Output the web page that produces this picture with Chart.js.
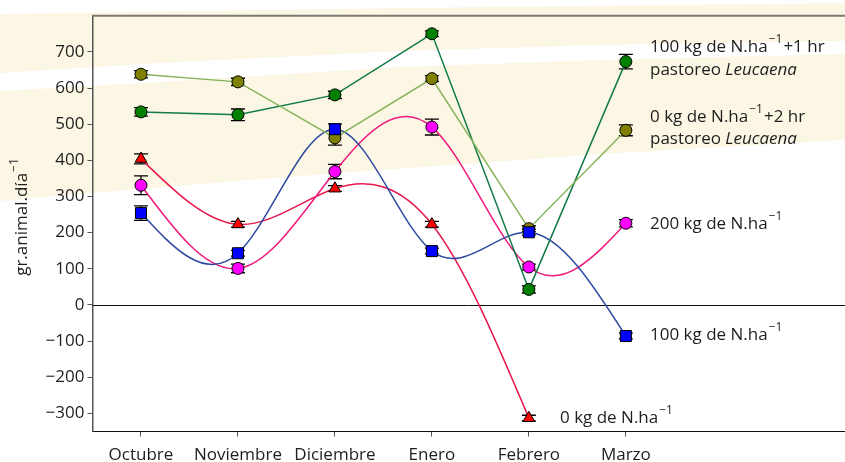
<!DOCTYPE html>
<html><head><meta charset="utf-8">
<script src="https://cdn.jsdelivr.net/npm/chart.js@4/dist/chart.umd.min.js"></script>
<style>html,body{margin:0;padding:0;background:#fff}</style>
</head><body>
<canvas id="c" width="845" height="462"></canvas>
<script>
// ---- data ----
const months = ['Octubre','Noviembre','Diciembre','Enero','Febrero','Marzo'];
const yTicks = [-300,-200,-100,0,100,200,300,400,500,600,700];
const n100leu    = [534, 526, 581, 750, 43, 673];
const n100leuErr = [12, 16, 10, 8, 10, 20];
const n0leu      = [638, 617, 462, 626, 211, 483];
const n0leuErr   = [10, 10, 20, 8, 8, 15];
const n200       = [331, 101, 369, 492, 105, 226];
const n200Err    = [26, 12, 20, 22, 8, 10];
const n100       = [254, 143, 486, 149, 201, -86];
const n100Err    = [20, 8, 15, 8, 8, 8];
const n0         = [404, 223, 322, 223, -313, null];
const n0Err      = [14, 8, 8, 8, 8, null];

const FONT = '"Open Sans", "DejaVu Sans", sans-serif';
const TXT = '#1e1e1e';

function pts(arr){ return arr.map((v,i)=>({x:i, y:v})); }

const datasets = [
  {label:'100 kg de N.ha-1', data:pts(n100), err:n100Err, borderColor:'#2d4aa0', backgroundColor:'#0000ff',
   pointStyle:'rect', pointRadius:7.8, showLine:false, spline:true},
  {label:'0 kg de N.ha-1+2 hr pastoreo Leucaena', data:pts(n0leu), err:n0leuErr, borderColor:'#86b35a', backgroundColor:'#808000',
   pointStyle:'circle', pointRadius:6, tension:0},
  {label:'100 kg de N.ha-1+1 hr pastoreo Leucaena', data:pts(n100leu), err:n100leuErr, borderColor:'#117a48', backgroundColor:'#008000',
   pointStyle:'circle', pointRadius:6, tension:0},
  {label:'200 kg de N.ha-1', data:pts(n200), err:n200Err, borderColor:'#f0187c', backgroundColor:'#ff00ff',
   pointStyle:'circle', pointRadius:6, showLine:false, spline:true},
  {label:'0 kg de N.ha-1', data:pts(n0), err:n0Err, borderColor:'#e8184c', backgroundColor:'#ff0000',
   pointStyle:'triangle', pointRadius:6.8, showLine:false, spline:true},
].map(d=>Object.assign({borderWidth:1.5, pointBorderColor:'#000', pointBorderWidth:1, pointBackgroundColor:d.backgroundColor, fill:false, spanGaps:false}, d));

// ---- helpers ----
function rich(ctx, x, y, parts, size){
  let cx = x;
  for (const p of parts){
    if (p.sup){
      ctx.font = `${Math.round(size*0.68)}px ${FONT}`;
      ctx.fillText(p.t, cx+1, y - size*0.45);
      cx += ctx.measureText(p.t).width + 2;
    } else {
      ctx.font = `${p.it?'italic ':''}${size}px ${FONT}`;
      ctx.fillText(p.t, cx, y);
      cx += ctx.measureText(p.t).width;
    }
  }
}

// natural cubic spline second derivatives (uniform x step 1)
function naturalM(y){
  const n = y.length, M = new Array(n).fill(0);
  if (n < 3) return M;
  const m = n - 2, a = [], b = [], c = [], d = [];
  for (let i = 1; i <= m; i++){ a.push(1); b.push(4); c.push(1); d.push(6*(y[i+1]-2*y[i]+y[i-1])); }
  for (let i = 1; i < m; i++){ const w = a[i]/b[i-1]; b[i] -= w*c[i-1]; d[i] -= w*d[i-1]; }
  const s = new Array(m);
  s[m-1] = d[m-1]/b[m-1];
  for (let i = m-2; i >= 0; i--) s[i] = (d[i]-c[i]*s[i+1])/b[i];
  for (let i = 0; i < m; i++) M[i+1] = s[i];
  return M;
}

function drawSpline(ctx, ds, xs, ys){
  const vals = ds.data.filter(p=>p.y!=null);
  const y = vals.map(p=>p.y), x0 = vals[0].x;
  const M = naturalM(y);
  ctx.beginPath();
  ctx.moveTo(xs.getPixelForValue(x0), ys.getPixelForValue(y[0]));
  for (let i = 0; i < y.length-1; i++){
    const dy = y[i+1]-y[i];
    const mL = dy - (2*M[i]+M[i+1])/6;
    const mR = dy + (M[i]+2*M[i+1])/6;
    const xa = x0+i, xb = x0+i+1;
    ctx.bezierCurveTo(
      xs.getPixelForValue(xa+1/3), ys.getPixelForValue(y[i]+mL/3),
      xs.getPixelForValue(xb-1/3), ys.getPixelForValue(y[i+1]-mR/3),
      xs.getPixelForValue(xb), ys.getPixelForValue(y[i+1]));
  }
  ctx.strokeStyle = ds.borderColor; ctx.lineWidth = ds.borderWidth;
  ctx.stroke();
}

const bgPlugin = {
  id:'bg',
  beforeDraw(chart){
    const ctx = chart.ctx;
    ctx.save();
    ctx.fillStyle = '#fcf6e5';
    const band = (top, bot) => {
      ctx.beginPath();
      ctx.moveTo(top[0][0], top[0][1]);
      for (const p of top.slice(1)) ctx.lineTo(p[0], p[1]);
      for (const p of bot.slice().reverse()) ctx.lineTo(p[0], p[1]);
      ctx.closePath(); ctx.fill();
    };
    band([[0,14],[400,8],[845,3]], [[0,73],[160,63],[400,51],[600,45],[845,41]]);
    band([[0,91],[160,82],[400,67],[600,60],[845,54]], [[0,201],[150,188],[300,176],[600,154],[845,140]]);
    ctx.restore();
  },
  beforeDatasetsDraw(chart){
    const ctx = chart.ctx, ys = chart.scales.y, xs = chart.scales.x;
    ctx.save();
    // top border line
    ctx.strokeStyle = '#7d7a74'; ctx.lineWidth = 2;
    ctx.beginPath(); ctx.moveTo(chart.chartArea.left, chart.chartArea.top); ctx.lineTo(845, chart.chartArea.top); ctx.stroke();
    // zero line
    ctx.strokeStyle = '#111'; ctx.lineWidth = 1;
    const y0 = Math.round(ys.getPixelForValue(0)) + 0.5;
    ctx.beginPath(); ctx.moveTo(chart.chartArea.left, y0); ctx.lineTo(845, y0); ctx.stroke();
    // error bars
    ctx.strokeStyle = '#000'; ctx.lineWidth = 1.3;
    chart.data.datasets.forEach(ds=>{
      ds.data.forEach((p,i)=>{
        if (p.y == null || ds.err[i] == null) return;
        const x = xs.getPixelForValue(p.x);
        const a = ys.getPixelForValue(p.y + ds.err[i]);
        const b = ys.getPixelForValue(p.y - ds.err[i]);
        ctx.beginPath();
        ctx.moveTo(x, a); ctx.lineTo(x, b);
        ctx.moveTo(x-7, a); ctx.lineTo(x+7, a);
        ctx.moveTo(x-7, b); ctx.lineTo(x+7, b);
        ctx.stroke();
      });
    });
    // smooth (natural spline) lines
    chart.data.datasets.slice().reverse().forEach(ds=>{ if (ds.spline) drawSpline(ctx, ds, xs, ys); });
    ctx.restore();
  },
  afterDraw(chart){
    const ctx = chart.ctx;
    ctx.save();
    ctx.fillStyle = TXT;
    ctx.textBaseline = 'middle';
    ctx.textAlign = 'left';
    const S = 17;
    rich(ctx, 650, 47, [{t:'100 kg de N.ha'},{t:'−1',sup:true},{t:'+1 hr'}], S);
    rich(ctx, 650, 70, [{t:'pastoreo '},{t:'Leucaena',it:true}], S);
    rich(ctx, 650, 117, [{t:'0 kg de N.ha'},{t:'−1',sup:true},{t:'+2 hr'}], S);
    rich(ctx, 650, 139, [{t:'pastoreo '},{t:'Leucaena',it:true}], S);
    rich(ctx, 650, 224, [{t:'200 kg de N.ha'},{t:'−1',sup:true}], S);
    rich(ctx, 650, 335, [{t:'100 kg de N.ha'},{t:'−1',sup:true}], S);
    rich(ctx, 560, 418, [{t:'0 kg de N.ha'},{t:'−1',sup:true}], S);
    // y axis title
    ctx.translate(22, 216);
    ctx.rotate(-Math.PI/2);
    ctx.font = `${S}px ${FONT}`;
    const w1 = ctx.measureText('gr.animal.día').width;
    ctx.font = `${Math.round(S*0.68)}px ${FONT}`;
    const w2 = ctx.measureText('−1').width + 3;
    rich(ctx, -(w1+w2)/2, 0, [{t:'gr.animal.día'},{t:'−1',sup:true}], S);
    ctx.restore();
  }
};

new Chart(document.getElementById('c'), {
  type:'line',
  data:{datasets},
  plugins:[bgPlugin],
  options:{
    responsive:false, animation:false, devicePixelRatio:1,
    layout:{autoPadding:false, padding:{top:15.7, right:0, left:0, bottom:0}},
    plugins:{legend:{display:false}, tooltip:{enabled:false}},
    scales:{
      x:{type:'linear', min:-0.5, max:7.26,
        afterBuildTicks: s=>{ s.ticks = months.map((m,i)=>({value:i})); },
        afterFit: s=>{ s.height = 30.5; },
        ticks:{callback:(v)=>months[v] ?? '', font:{family:FONT, size:17}, color:TXT, padding:8, maxRotation:0, autoSkip:false},
        grid:{drawOnChartArea:false, drawTicks:true, tickLength:5, color:'#555', lineWidth:1},
        border:{display:true, color:'#111', width:1}},
      y:{type:'linear', min:-350, max:800,
        afterBuildTicks: s=>{ s.ticks = yTicks.map(v=>({value:v})); },
        afterFit: s=>{ s.width = 92.5; },
        ticks:{callback:(v)=> v<0 ? '−'+Math.abs(v) : String(v), font:{family:FONT, size:17}, color:TXT, padding:3},
        grid:{drawOnChartArea:false, drawTicks:true, tickLength:5, color:'#555', lineWidth:1},
        border:{display:true, color:'#555', width:1.5}}
    }
  }
});
</script>
</body></html>
